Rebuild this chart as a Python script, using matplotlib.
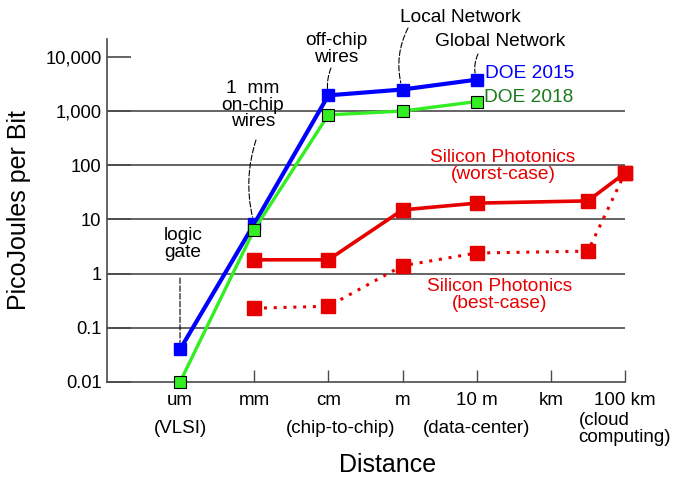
import numpy as np
import matplotlib
matplotlib.use('Agg')
import matplotlib.pyplot as plt
from matplotlib.ticker import FixedLocator, FixedFormatter, NullLocator

plt.rcParams['font.family'] = ['Liberation Sans', 'DejaVu Sans']

# distance categories (x index positions)
cats = ['um', 'mm', 'cm', 'm', '10 m', 'km', '100 km']
cat_x = [0, 1, 2, 3, 4, 5, 6]
sub_labels = ['(VLSI)', '', '(chip-to-chip)', '', '(data-center)', '', '(cloud\ncomputing)']
sub_x = [0, 1, 2.17, 3, 4.0, 5, 6.0]

# DOE electrical interconnect energy
doe_x = [0, 1, 2, 3, 4]
doe2015 = [0.04, 8.3, 1950, 2500, 3800]
doe2018 = [0.01, 6.5, 850, 1000, 1500]

# silicon photonics
sp_x = [1, 2, 3, 4, 5.5, 6]
sp_worst = [1.8, 1.8, 15, 20, 22, 72]
sp_best = [0.23, 0.25, 1.4, 2.4, 2.6, 72]

yticks = [0.01, 0.1, 1, 10, 100, 1000, 10000]
ytick_labels = ['0.01', '0.1', '1', '10', '100', '1,000', '10,000']
grid_vals = [0.1, 1, 10, 100, 1000]

W, H = 676, 478
def fpx(x, y):
    # pixel position (top-left origin) -> figure fraction
    return (x / W, 1 - y / H)

fig = plt.figure(figsize=(W / 100, H / 100), dpi=100)
ax = fig.add_axes([107 / W, 1 - 382 / H, (625 - 107) / W, (382 - 39) / H])

ax.set_yscale('log')
ax.set_ylim(0.01, 10 ** 4.33)
ax.set_xlim(-0.985, 6.0)

for v in grid_vals:
    ax.axhline(v, color='#4a4a4a', lw=1.2, zorder=1)

blue = '#0000ff'
lime = '#33ee22'
red = '#e60000'

ax.plot(doe_x, doe2015, color=blue, lw=3.0, marker='s', ms=9, mec=blue,
        zorder=4, clip_on=False)
ax.plot(doe_x, doe2018, color=lime, lw=2.4, marker='s', ms=8, mec='black',
        mew=0.8, zorder=5, clip_on=False)
ax.plot(sp_x, sp_worst, color=red, lw=2.6, marker='s', ms=10, mec=red,
        zorder=4, clip_on=False)
ax.plot(sp_x, sp_best, color=red, lw=2.2, ls=(0, (1, 2.2)), marker='s', ms=10,
        mec=red, zorder=4, clip_on=False)

# axes styling
for s in ['top', 'right']:
    ax.spines[s].set_visible(False)
for s in ['left', 'bottom']:
    ax.spines[s].set_color('#4a4a4a')
    ax.spines[s].set_linewidth(1.2)

ax.yaxis.set_major_locator(FixedLocator(yticks))
ax.yaxis.set_major_formatter(FixedFormatter(ytick_labels))
ax.yaxis.set_minor_locator(NullLocator())
ax.tick_params(axis='y', direction='in', length=17, width=1.2, color='#4a4a4a',
               labelsize=13.2, pad=4)

ax.set_xticks(cat_x)
ax.set_xticklabels(cats)
ax.tick_params(axis='x', direction='in', length=9, width=1.0, color='#4a4a4a',
               labelsize=13.5, pad=7)
ax.xaxis.get_major_ticks()[0].tick1line.set_visible(False)

for xx, lab in zip(sub_x, sub_labels):
    if lab:
        ax.text(xx, -0.137, lab, transform=ax.get_xaxis_transform(), ha='center',
                va='center', fontsize=13.5, multialignment='left', linespacing=0.95)

ax.set_ylabel('PicoJoules per Bit', fontsize=18, labelpad=10)
fig.text(*fpx(388, 465), 'Distance', fontsize=18, ha='center', va='center')

# annotations
def label(x, y, s, color='black', ha='center'):
    fig.text(*fpx(x, y), s, fontsize=13.8, color=color, ha=ha, va='center',
             linespacing=0.95)

label(183, 244, 'logic\ngate')
label(253, 105, '1  mm\non-chip\nwires')
label(336, 49, 'off-chip\nwires')
label(460, 17, 'Local Network')
label(500, 42, 'Global Network')
label(485, 74, 'DOE 2015', color=blue, ha='left')
label(484, 98, 'DOE 2018', color='#1b7a1b', ha='left')
label(503, 166, 'Silicon Photonics\n(worst-case)', color=red)
label(500, 295, 'Silicon Photonics\n(best-case)', color=red)

def leader(px, py, tx, ty, rad):
    ax.annotate('', xy=(tx, ty), xycoords='data', xytext=fpx(px, py),
                textcoords='figure fraction',
                arrowprops=dict(arrowstyle='-', lw=0.8, color='black',
                                ls=(0, (5, 2)), shrinkA=0, shrinkB=5,
                                connectionstyle='arc3,rad=%s' % rad))

leader(180, 278, doe_x[0], doe2015[0], 0.0)
leader(256, 140, doe_x[1], doe2015[1], 0.15)
leader(331, 68, doe_x[2], doe2015[2], 0.15)
leader(408, 28, doe_x[3], doe2015[3], 0.2)
leader(478, 54, doe_x[4], doe2015[4], 0.2)

plt.savefig('out.png', dpi=100)
